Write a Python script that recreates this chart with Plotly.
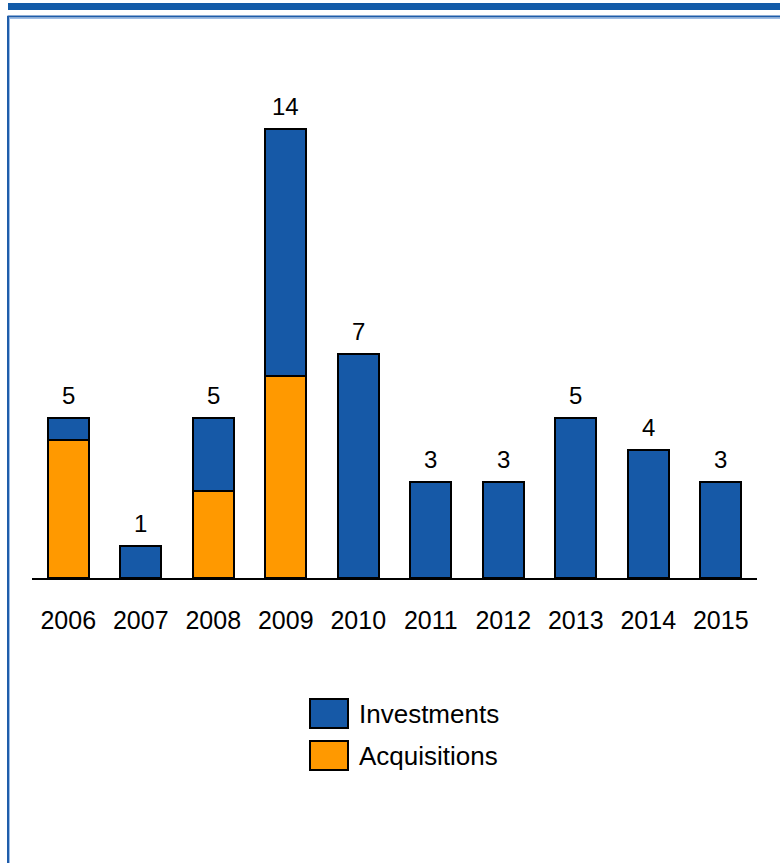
import plotly.graph_objects as go

# Deals per year, split by type
years = ["2006", "2007", "2008", "2009", "2010", "2011", "2012", "2013", "2014", "2015"]
investments = [0.7, 1, 2.3, 7.7, 7, 3, 3, 5, 4, 3]
acquisitions = [4.3, 0, 2.7, 6.3, 0, 0, 0, 0, 0, 0]
totals = [5, 1, 5, 14, 7, 3, 3, 5, 4, 3]

BLUE = "#1659A7"
ORANGE = "#FF9900"
FONT = "Arial, Liberation Sans, sans-serif"

W, H = 780, 863
L, R, T, B = 32, 23, 65, 285
PW, PH = W - L - R, H - T - B


def px(x):
    return (x - L) / PW


def py(y):
    return (H - B - y) / PH


fig = go.Figure()
fig.add_trace(go.Bar(
    x=years, y=acquisitions, name="Acquisitions",
    marker=dict(color=ORANGE, line=dict(color="black", width=2)),
    width=0.566, showlegend=False,
))
fig.add_trace(go.Bar(
    x=years, y=investments, name="Investments",
    marker=dict(color=BLUE, line=dict(color="black", width=2)),
    width=0.566, showlegend=False,
))

annotations = []
# Total labels above each bar (category index as x position)
for i, tot in enumerate(totals):
    annotations.append(dict(
        x=i, y=tot, xref="x", yref="y", text=str(tot), showarrow=False,
        yanchor="bottom", yshift=7, font=dict(family=FONT, size=24, color="black"),
    ))

shapes = []
# Legend swatches and labels
for (y0, y1, color, label) in [(699, 728, BLUE, "Investments"), (741, 770, ORANGE, "Acquisitions")]:
    shapes.append(dict(type="rect", xref="paper", yref="paper",
                       x0=px(310), x1=px(348), y0=py(y1), y1=py(y0),
                       fillcolor=color, line=dict(color="black", width=2)))
    annotations.append(dict(x=px(357), y=py((y0 + y1) / 2), xref="paper", yref="paper",
                            text=label, showarrow=False, xanchor="left", yanchor="middle",
                            font=dict(family=FONT, size=26, color="black")))

# Frame: heavy band on top, thin two-tone border below it
shapes.append(dict(type="rect", xref="paper", yref="paper", layer="above",
                   x0=px(8), x1=px(781), y0=py(10), y1=py(3),
                   fillcolor="#135BA8", line=dict(width=0)))
shapes.append(dict(type="line", xref="paper", yref="paper",
                   x0=px(7.5), x1=px(781), y0=py(16.5), y1=py(16.5),
                   line=dict(color="#1F5DAA", width=2)))
shapes.append(dict(type="line", xref="paper", yref="paper",
                   x0=px(9), x1=px(781), y0=py(18.5), y1=py(18.5),
                   line=dict(color="#9DBDE6", width=1)))
shapes.append(dict(type="line", xref="paper", yref="paper",
                   x0=px(8), x1=px(8), y0=py(16), y1=py(870),
                   line=dict(color="#1F5DAA", width=2)))
shapes.append(dict(type="line", xref="paper", yref="paper",
                   x0=px(9.5), x1=px(9.5), y0=py(18), y1=py(870),
                   line=dict(color="#9DBDE6", width=1)))

fig.update_layout(
    width=W, height=H,
    margin=dict(l=L, r=R, t=T, b=B),
    barmode="stack",
    paper_bgcolor="white", plot_bgcolor="white",
    font=dict(family=FONT, size=24, color="black"),
    xaxis=dict(
        type="category", range=[-0.5, 9.5],
        showline=True, linecolor="black", linewidth=2,
        showgrid=False, zeroline=False, ticks="",
        tickfont=dict(family=FONT, size=25, color="black"),
        ticklabelstandoff=19,
    ),
    yaxis=dict(range=[0, 16], visible=False, showgrid=False, zeroline=False),
    annotations=annotations,
    shapes=shapes,
)

fig.write_html("out.html")
